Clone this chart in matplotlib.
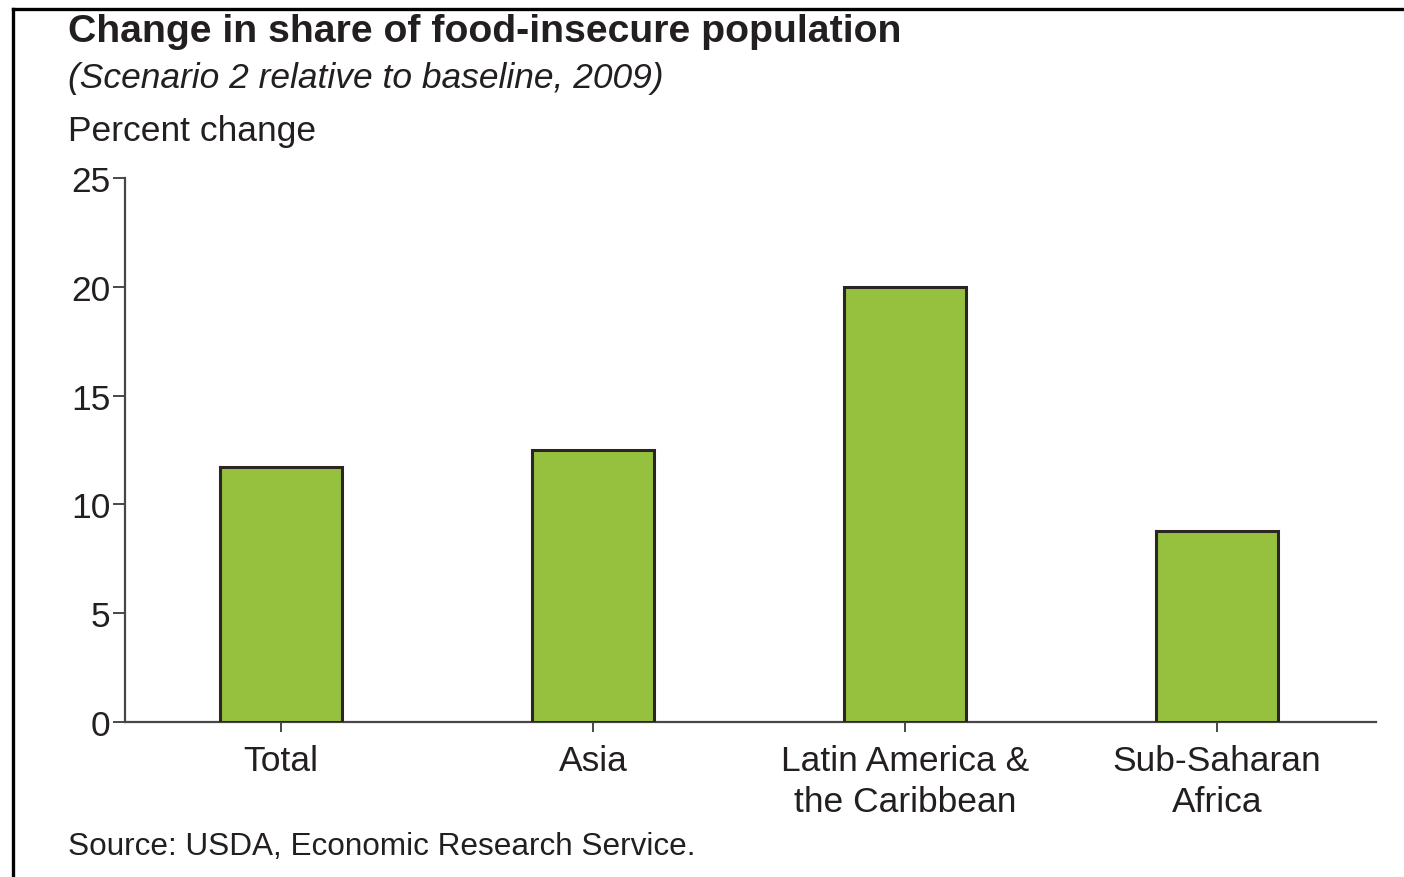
import matplotlib
matplotlib.use("Agg")
import matplotlib.pyplot as plt
from matplotlib.lines import Line2D

plt.rcParams["font.family"] = ["Liberation Sans", "DejaVu Sans"]

REGIONS = ["Total", "Asia", "Latin America &\nthe Caribbean", "Sub-Saharan\nAfrica"]
CHANGE = [11.7, 12.5, 20.0, 8.8]
YTICKS = [0, 5, 10, 15, 20, 25]

GREEN, EDGE, INK, AXIS = "#95c13f", "#2b2523", "#231f20", "#4a4646"

W, H = 1404, 878
fig = plt.figure(figsize=(W / 100, H / 100), dpi=100)

# cadre : trait en haut et à gauche seulement
fig.add_artist(Line2D([12.5 / W, 1.0], [1 - 9.5 / H, 1 - 9.5 / H], color="black", lw=2.4))
fig.add_artist(Line2D([12.5 / W, 12.5 / W], [0.0, 1 - 9.5 / H], color="black", lw=2.4))

ax = fig.add_axes([125 / W, 1 - 723 / H, (1376 - 125) / W, (723 - 179) / H])
x = list(range(len(REGIONS)))
ax.bar(x, CHANGE, width=0.39, color=GREEN, edgecolor=EDGE, linewidth=2.2, zorder=3)

ax.set_xlim(-0.5, 3.51)
ax.set_ylim(0, 25)
ax.set_yticks(YTICKS)
ax.set_xticks(x)
ax.set_xticklabels(REGIONS, linespacing=1.27)
for cote in ("top", "right"):
    ax.spines[cote].set_visible(False)
for cote in ("left", "bottom"):
    ax.spines[cote].set_color(AXIS)
    ax.spines[cote].set_linewidth(1.6)
ax.tick_params(axis="y", length=8.6, width=1.4, color=AXIS, pad=2,
               labelsize=25.5, labelcolor=INK)
ax.tick_params(axis="x", length=7.2, width=1.4, color=AXIS, pad=9,
               labelsize=25.5, labelcolor=INK)

fig.text(68 / W, 1 - 42 / H, "Change in share of food-insecure population",
         fontsize=28.3, weight="bold", color=INK, va="baseline")
fig.text(68 / W, 1 - 88 / H, "(Scenario 2 relative to baseline, 2009)",
         fontsize=25.5, style="italic", color=INK, va="baseline")
fig.text(68 / W, 1 - 141 / H, "Percent change",
         fontsize=25.5, color=INK, va="baseline")
fig.text(68 / W, 1 - 855 / H, "Source: USDA, Economic Research Service.",
         fontsize=22.7, color=INK, va="baseline")

fig.savefig("out.png", dpi=100, facecolor="white")
